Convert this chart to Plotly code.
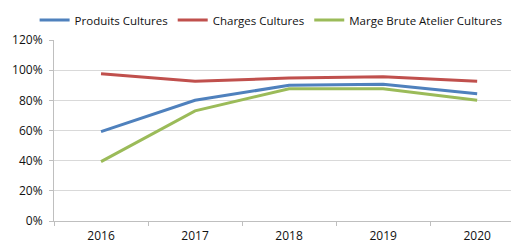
import plotly.graph_objects as go

years = ["2016", "2017", "2018", "2019", "2020"]
produits = [0.593, 0.80, 0.90, 0.906, 0.844]
charges = [0.977, 0.926, 0.948, 0.957, 0.926]
marge = [0.394, 0.73, 0.877, 0.877, 0.80]

names = ["Produits Cultures", "Charges Cultures", "Marge Brute Atelier Cultures"]
colors = ["#4F81BD", "#C0504D", "#9BBB59"]

fig = go.Figure()
for name, vals, col in zip(names, [produits, charges, marge], colors):
    fig.add_trace(go.Scatter(x=years, y=vals, name=name, mode="lines",
                             line=dict(color=col, width=3)))

fig.update_layout(
    width=519, height=245,
    margin=dict(l=46, r=0, t=32, b=32, autoexpand=False),
    paper_bgcolor="white", plot_bgcolor="white",
    font=dict(family="Open Sans", size=12, color="#111"),
    legend=dict(orientation="h", x=0.459, xanchor="center", y=1.19, yanchor="top",
                font=dict(size=11.5), itemwidth=30, tracegroupgap=0),
    showlegend=True,
)
fig.update_xaxes(type="category", range=[-0.5, 4.53], showline=True, linecolor="#bfbfbf",
                 linewidth=1, ticks="outside", tickson="boundaries", ticklen=4,
                 tickcolor="#bfbfbf", showgrid=False, tickfont=dict(size=12),
                 ticklabelstandoff=4)
fig.update_yaxes(range=[0, 1.2], dtick=0.2, tickformat=".0%", showline=True,
                 linecolor="#bfbfbf", linewidth=1, ticks="outside", ticklen=4,
                 tickcolor="#bfbfbf", showgrid=True, gridcolor="#d9d9d9",
                 gridwidth=1, zeroline=False, tickfont=dict(size=12),
                 ticklabelstandoff=4)

fig.write_html("out.html")
